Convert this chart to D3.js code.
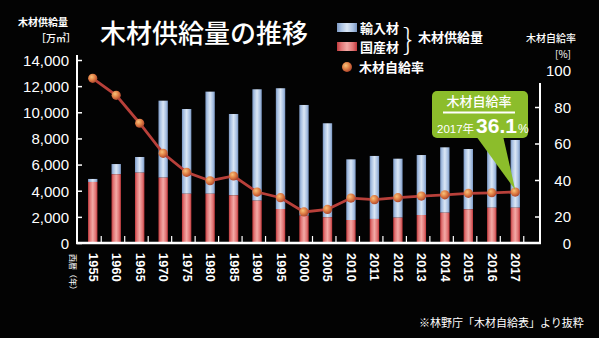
<!DOCTYPE html>
<html><head><meta charset="utf-8">
<script src="https://cdn.jsdelivr.net/npm/d3@7"></script>
<style>
html,body{margin:0;padding:0;background:#000;}
svg{display:block;}
text{font-family:"Noto Sans CJK JP","Noto Sans",sans-serif;fill:#fff;}
.num{font-family:"Liberation Sans",Arial,sans-serif;}
</style></head>
<body>
<svg id="c" width="599" height="338"></svg>
<script>
const years = ["1955","1960","1965","1970","1975","1980","1985","1990","1995","2000","2005","2010","2011","2012","2013","2014","2015","2016","2017"];
const totalSupply = [4900,6040,6580,10890,10250,11580,9870,11760,11840,10560,9160,6400,6660,6450,6730,7320,7190,7500,7880];
const domestic = [4670,5260,5380,5000,3770,3770,3650,3240,2600,2090,1970,1760,1840,1940,2140,2320,2580,2700,2700];
const selfRate = [95.7,86.4,71.1,54.6,44.2,39.6,42.2,33.4,30.3,22.5,23.9,30.1,29.2,30.3,31.2,31.9,32.7,33.0,33.4];
const leftTicks = [0,2000,4000,6000,8000,10000,12000,14000];
const rightTicks = [0,20,40,60,80,100];

const svg = d3.select("#c");
svg.append("rect").attr("width",599).attr("height",338).attr("fill","#030303");
const defs = svg.append("defs");
function hgrad(id, stops){
  const g = defs.append("linearGradient").attr("id",id).attr("x1","0").attr("x2","1").attr("y1","0").attr("y2","0");
  stops.forEach(s=>g.append("stop").attr("offset",s[0]).attr("stop-color",s[1]));
}
hgrad("gBlue",[[0,"#7b97c2"],[0.2,"#a9c1e2"],[0.5,"#dbe7f5"],[0.8,"#a9c1e2"],[1,"#7b97c2"]]);
hgrad("gRed",[[0,"#c0393c"],[0.2,"#e07474"],[0.5,"#f3aaa6"],[0.8,"#e07474"],[1,"#c0393c"]]);
const rg = defs.append("radialGradient").attr("id","gDot").attr("cx","0.38").attr("cy","0.35").attr("r","0.7");
rg.append("stop").attr("offset",0).attr("stop-color","#f7c27a");
rg.append("stop").attr("offset",0.5).attr("stop-color","#e07f45");
rg.append("stop").attr("offset",1).attr("stop-color","#a8402a");

const x = d3.scaleBand().domain(years).range([81,527]).paddingInner(0.6).paddingOuter(0.3);
const yL = d3.scaleLinear().domain([0,14000]).range([243,60]);
const yR = d3.scaleLinear().domain([0,20,100]).range([243,216.5,70.5]);

// bars
const bw = x.bandwidth();
svg.append("g").selectAll("rect").data(years).join("rect")
  .attr("x",d=>x(d)).attr("width",bw)
  .attr("y",(d,i)=>yL(totalSupply[i])).attr("height",(d,i)=>yL(domestic[i])-yL(totalSupply[i]))
  .attr("fill","url(#gBlue)");
svg.append("g").selectAll("rect").data(years).join("rect")
  .attr("x",d=>x(d)).attr("width",bw)
  .attr("y",(d,i)=>yL(domestic[i])).attr("height",(d,i)=>yL(0)-yL(domestic[i]))
  .attr("fill","url(#gRed)");

// left axis
const axL = svg.append("g").attr("transform","translate(77,0)")
  .call(d3.axisLeft(yL).tickValues(leftTicks).tickFormat(d3.format(",")).tickSizeInner(-5).tickSizeOuter(0).tickPadding(8));
axL.select(".domain").remove();
axL.selectAll("line").attr("stroke","#fff").attr("stroke-width",1.5);
axL.selectAll("text").attr("class","num").attr("font-size",15).attr("fill","#fff").attr("dy","0.36em");
svg.append("line").attr("x1",77).attr("x2",77).attr("y1",55).attr("y2",243).attr("stroke","#fff").attr("stroke-width",2);

// right axis
const axR = svg.append("g").attr("transform","translate(540,0)")
  .call(d3.axisRight(yR).tickValues(rightTicks).tickSizeInner(-5).tickSizeOuter(0).tickPadding(8));
axR.select(".domain").remove();
axR.selectAll("line").attr("stroke","#fff").attr("stroke-width",1.5).attr("opacity",d=>(d===0||d===100)?0:1);
axR.selectAll("text").attr("class","num").attr("font-size",15).attr("fill","#fff").attr("text-anchor","end").attr("x",31).attr("dy","0.36em");
svg.append("line").attr("x1",540).attr("x2",540).attr("y1",83).attr("y2",243).attr("stroke","#fff").attr("stroke-width",2);

// baseline + ticks
svg.append("line").attr("x1",76).attr("x2",541).attr("y1",243).attr("y2",243).attr("stroke","#fff").attr("stroke-width",2.5);
svg.append("g").selectAll("line").data(years).join("line")
  .attr("x1",d=>x(d)+bw/2+8.5).attr("x2",d=>x(d)+bw/2+8.5).attr("y1",236).attr("y2",243)
  .attr("stroke","#fff").attr("stroke-width",1.2);

// year labels
svg.append("g").selectAll("text").data(years).join("text").attr("class","num")
  .attr("transform",d=>`translate(${x(d)+bw/2-4},253) rotate(90)`)
  .attr("font-size",12.5).attr("font-weight","bold").attr("letter-spacing","0.3").text(d=>d);
svg.append("text").attr("transform","translate(70,254) rotate(90)").attr("font-size",8).attr("fill","#ddd").text("西暦（年）");

// line + dots
const line = d3.line().x((d,i)=>x(years[i])+bw/2).y(d=>yR(d));
svg.append("path").datum(selfRate).attr("d",line).attr("fill","none").attr("stroke","#b8403a").attr("stroke-width",2.8);
svg.append("g").selectAll("circle").data(selfRate).join("circle")
  .attr("cx",(d,i)=>x(years[i])+bw/2).attr("cy",d=>yR(d)).attr("r",4.6).attr("fill","url(#gDot)");

// callout
const last = years.length-1;
const px = x(years[last])+bw/2, py = yR(selfRate[last]);
svg.append("path").attr("d",`M476,136 L503,136 L${px},${py-2} Z`).attr("fill","#8cbd2b");
svg.append("rect").attr("x",432).attr("y",91).attr("width",96).attr("height",47).attr("rx",5).attr("fill","#8cbd2b");
svg.append("text").attr("x",479).attr("y",106).attr("text-anchor","middle").attr("font-size",13).attr("font-weight",500).text("木材自給率");
svg.append("line").attr("x1",443).attr("x2",515).attr("y1",112.5).attr("y2",112.5).attr("stroke","#fff").attr("stroke-width",1.8);
const ct = svg.append("text").attr("x",437).attr("y",133).attr("font-size",11.5);
ct.append("tspan").attr("class","num").text("2017");
ct.append("tspan").text("年");
ct.append("tspan").attr("class","num").attr("dx",2).attr("font-size",21).attr("font-weight","bold").text("36.1");
ct.append("tspan").attr("class","num").attr("dx",1).attr("font-size",12).text("%");

// title
svg.append("text").attr("x",100).attr("y",43).attr("font-size",26).attr("font-weight",500).text("木材供給量の推移");

// axis titles
svg.append("text").attr("x",18).attr("y",26).attr("font-size",10).attr("font-weight",700).text("木材供給量");
svg.append("text").attr("x",36).attr("y",42).attr("font-size",10).attr("font-weight",500).text("［万㎥］");
svg.append("text").attr("x",526).attr("y",42).attr("font-size",10).attr("font-weight",500).text("木材自給率");
svg.append("text").attr("x",555).attr("y",58).attr("font-size",10).text("[%]");

// legend
svg.append("rect").attr("x",337).attr("y",23).attr("width",20).attr("height",9).attr("fill","url(#gBlue)");
svg.append("rect").attr("x",337).attr("y",42).attr("width",20).attr("height",9).attr("fill","url(#gRed)");
svg.append("text").attr("x",360).attr("y",33).attr("font-size",13).attr("font-weight",700).text("輸入材");
svg.append("text").attr("x",360).attr("y",52).attr("font-size",13).attr("font-weight",700).text("国産材");
svg.append("text").attr("x",403).attr("y",50).attr("font-size",30).attr("font-weight",300).text("}");
svg.append("text").attr("x",418).attr("y",42).attr("font-size",13).attr("font-weight",700).text("木材供給量");
svg.append("circle").attr("cx",347).attr("cy",67).attr("r",5).attr("fill","url(#gDot)");
svg.append("text").attr("x",359).attr("y",72).attr("font-size",13).attr("font-weight",700).text("木材自給率");

// footnote
svg.append("text").attr("x",419).attr("y",327).attr("font-size",11).attr("fill","#e0e0e0").text("※林野庁「木材自給表」より抜粋");
</script>
</body></html>
